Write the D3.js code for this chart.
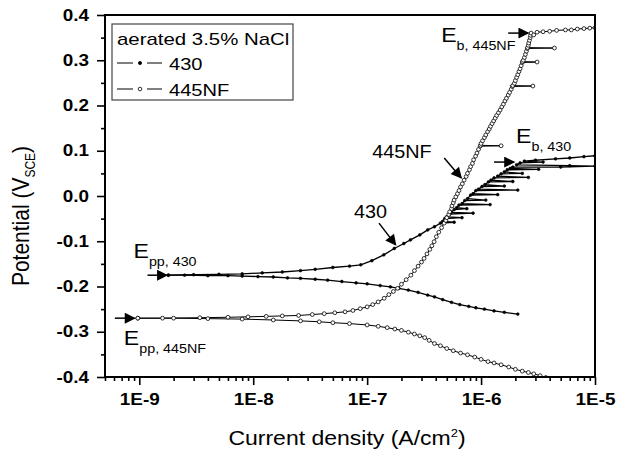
<!DOCTYPE html>
<html>
<head>
<meta charset="utf-8">
<script src="https://cdn.jsdelivr.net/npm/d3@7"></script>
<style>
  body { margin: 0; background: #fff; }
  text { font-family: "Liberation Sans", Arial, sans-serif; }
</style>
</head>
<body>
<svg id="chart" width="630" height="453"></svg>
<script>
// polarisation curves, [current density A/cm2, potential V(SCE)]
// each branch starts at the passivation potential and runs outward
var cathodic430 = [
  [1.8e-9,-0.175],[2.5e-9,-0.175],[4e-9,-0.176],[6e-9,-0.176],[8e-9,-0.177],[1.1e-8,-0.178],
  [1.5e-8,-0.179],[2e-8,-0.181],[2.6e-8,-0.182],[3.5e-8,-0.184],[4.5e-8,-0.186],[6e-8,-0.189],
  [8e-8,-0.192],[1e-7,-0.194],[1.3e-7,-0.198],[1.6e-7,-0.201],[1.9e-7,-0.204],[2.3e-7,-0.208],
  [2.8e-7,-0.213],[3.4e-7,-0.219],[3.9e-7,-0.223],[4.6e-7,-0.229],[5.5e-7,-0.235],[6.5e-7,-0.240],
  [7.8e-7,-0.244],[9e-7,-0.247],[1.07e-6,-0.250],[1.3e-6,-0.254],[1.6e-6,-0.257],[2.1e-6,-0.261]
];
var anodic430 = [
  [1.8e-9,-0.175],[3e-9,-0.174],[5e-9,-0.173],[8e-9,-0.172],[1.2e-8,-0.170],[1.8e-8,-0.168],
  [2.6e-8,-0.165],[3.5e-8,-0.162],[5e-8,-0.158],[7e-8,-0.155],[8.8e-8,-0.152],[1.1e-7,-0.143],
  [1.4e-7,-0.130],[1.73e-7,-0.116],[2.1e-7,-0.105],[2.4e-7,-0.097],[2.9e-7,-0.086],[3.4e-7,-0.075],
  [3.9e-7,-0.068],[4.4e-7,-0.060],[5.8e-7,-0.058],[4.6e-7,-0.056],[4.8e-7,-0.050],[6.8e-7,-0.048],
  [5e-7,-0.046],[5.3e-7,-0.040],[8.5e-7,-0.038],[5.5e-7,-0.036],[5.8e-7,-0.030],[7.5e-7,-0.028],
  [6.1e-7,-0.026],[6.4e-7,-0.020],[1.2e-6,-0.019],[6.8e-7,-0.017],[7.2e-7,-0.010],[1.1e-6,-0.009],
  [7.6e-7,-0.006],[8.1e-7,0.002],[1.4e-6,0.003],[8.5e-7,0.005],[9e-7,0.012],[2.1e-6,0.013],
  [9.5e-7,0.015],[1.02e-6,0.021],[1.6e-6,0.022],[1.08e-6,0.025],[1.16e-6,0.031],[1.9e-6,0.032],
  [1.22e-6,0.035],[1.3e-6,0.040],[2.6e-6,0.041],[1.4e-6,0.044],[1.5e-6,0.049],[2.3e-6,0.050],
  [1.6e-6,0.053],[1.7e-6,0.058],[3.2e-6,0.059],[1.8e-6,0.061],[1.9e-6,0.064],[5e-6,0.064],
  [1e-5,0.066],[6e-6,0.067],[2.05e-6,0.069],[2.2e-6,0.073],[3.5e-6,0.075],[2.4e-6,0.077],
  [3e-6,0.079],[4.5e-6,0.082],[6e-6,0.084],[8e-6,0.087],[1e-5,0.089]
];
var cathodic445 = [
  [9.7e-10,-0.270],[2e-9,-0.270],[4e-9,-0.271],[8e-9,-0.272],[1.5e-8,-0.274],[2.6e-8,-0.276],
  [3.8e-8,-0.278],[5e-8,-0.280],[7e-8,-0.282],[1e-7,-0.285],[1.25e-7,-0.288],[1.5e-7,-0.291],
  [1.75e-7,-0.294],[2e-7,-0.297],[2.3e-7,-0.301],[2.6e-7,-0.305],[2.9e-7,-0.309],[3.2e-7,-0.313],
  [3.5e-7,-0.319],[3.9e-7,-0.326],[4.4e-7,-0.331],[5e-7,-0.337],[5.7e-7,-0.342],[6.6e-7,-0.347],
  [7.6e-7,-0.351],[8.8e-7,-0.356],[1e-6,-0.361],[1.15e-6,-0.366],[1.3e-6,-0.369],[1.5e-6,-0.373],
  [1.75e-6,-0.378],[2e-6,-0.383],[2.3e-6,-0.387],[2.6e-6,-0.390],[2.9e-6,-0.393],[3.3e-6,-0.397],
  [3.7e-6,-0.401]
];
var anodic445 = [
  [9.7e-10,-0.270],[1.6e-9,-0.270],[3.4e-9,-0.269],[6e-9,-0.268],[9e-9,-0.267],[1.3e-8,-0.266],
  [1.8e-8,-0.265],[2.5e-8,-0.264],[3.3e-8,-0.262],[4.2e-8,-0.260],[5.2e-8,-0.258],[6.4e-8,-0.256],
  [7.5e-8,-0.253],[8.7e-8,-0.249],[1e-7,-0.245],[1.12e-7,-0.240],[1.25e-7,-0.234],[1.41e-7,-0.226],
  [1.55e-7,-0.218],[1.7e-7,-0.211],[1.85e-7,-0.204],[2e-7,-0.195],[2.2e-7,-0.185],[2.42e-7,-0.175],
  [2.6e-7,-0.165],[2.8e-7,-0.155],[3e-7,-0.146],[3.16e-7,-0.138],[3.35e-7,-0.128],[3.55e-7,-0.118],
  [3.7e-7,-0.110],[3.87e-7,-0.101],[4.05e-7,-0.090],[4.25e-7,-0.080],[4.5e-7,-0.070],[4.74e-7,-0.060],
  [4.9e-7,-0.054],[5e-7,-0.048],[5.2e-7,-0.041],[5.3e-7,-0.035],[5.5e-7,-0.028],[5.55e-7,-0.022],
  [5.7e-7,-0.015],[5.8e-7,-0.009],[6e-7,-0.002],[6.2e-7,0.005],[6.4e-7,0.012],[6.6e-7,0.020],
  [6.85e-7,0.027],[7.1e-7,0.035],[7.4e-7,0.043],[7.6e-7,0.050],[7.9e-7,0.058],[8.1e-7,0.065],
  [8.4e-7,0.072],[8.6e-7,0.080],[8.95e-7,0.088],[9.2e-7,0.095],[9.5e-7,0.103],[9.8e-7,0.110],
  [1.5e-6,0.111],[9.9e-7,0.112],[1e-6,0.116],[1.03e-6,0.122],[1.07e-6,0.129],[1.1e-6,0.135],
  [1.14e-6,0.142],[1.18e-6,0.148],[1.21e-6,0.154],[1.25e-6,0.160],[1.29e-6,0.166],[1.33e-6,0.172],
  [1.37e-6,0.178],[1.42e-6,0.184],[1.47e-6,0.190],[1.52e-6,0.197],[1.57e-6,0.203],[1.62e-6,0.210],
  [1.67e-6,0.216],[1.73e-6,0.223],[1.78e-6,0.229],[1.84e-6,0.236],[1.88e-6,0.242],[2.85e-6,0.243],
  [1.9e-6,0.244],[1.96e-6,0.249],[2e-6,0.255],[2.05e-6,0.262],[2.1e-6,0.268],[2.15e-6,0.275],
  [2.2e-6,0.281],[2.25e-6,0.288],[2.3e-6,0.295],[3.1e-6,0.296],[2.31e-6,0.297],[2.35e-6,0.300],
  [2.4e-6,0.306],[2.45e-6,0.313],[2.5e-6,0.320],[2.55e-6,0.326],[4.4e-6,0.327],[2.56e-6,0.328],
  [2.6e-6,0.333],[2.62e-6,0.338],[2.66e-6,0.344],[2.7e-6,0.350],[2.72e-6,0.355],[2.75e-6,0.360],
  [2.9e-6,0.356],[3.1e-6,0.362],[3.5e-6,0.363],[4e-6,0.364],[4.6e-6,0.366],[5.5e-6,0.367],
  [6.2e-6,0.367],[7e-6,0.369],[8e-6,0.370],[9e-6,0.371],[1e-5,0.372]
];

var xTickValues = [1e-9, 1e-8, 1e-7, 1e-6, 1e-5];
var xTickLabels = ["1E-9", "1E-8", "1E-7", "1E-6", "1E-5"];
var yTickValues = [-0.4, -0.3, -0.2, -0.1, 0, 0.1, 0.2, 0.3, 0.4];
var yTickLabels = ["-0.4", "-0.3", "-0.2", "-0.1", "0.0", "0.1", "0.2", "0.3", "0.4"];
var legendTitle = "aerated 3.5% NaCl";
var seriesNames = ["430", "445NF"];

// the source figure is a bit wider than tall in its lettering
var WIDEN = 1.18;

drawPolarisation();

function widen(sel, k) {
    sel.each(function(){
        var len = this.getComputedTextLength();
        d3.select(this).attr('textLength', len * k).attr('lengthAdjust', 'spacingAndGlyphs');
    });
}

function drawPolarisation() {
    var margin = {top: 15, right: 35, bottom: 76, left: 105};
    var width = 630 - margin.left - margin.right;
    var height = 453 - margin.top - margin.bottom;

    var svg = d3.select('#chart');
    var chart = svg.append('g')
        .attr('transform', 'translate(' + margin.left + ',' + margin.top + ')');

    var x = d3.scaleLog().domain([5e-10, 1e-5]).range([0, width]);
    var y = d3.scaleLinear().domain([-0.4, 0.4]).range([height, 0]);

    // minor ticks, log decades 2..9 and the half steps on potential
    var xMinor = [];
    for (var e = -10; e < -5; e++) {
        for (var m = 2; m <= 9; m++) {
            var v = m * Math.pow(10, e);
            if (v >= 5e-10 && v <= 1e-5) xMinor.push(v);
        }
    }
    var yMinor = yTickValues.slice(0, -1).map(function(d){ return d + 0.05 });

    chart.append('g')
        .attr('transform', 'translate(0,' + height + ')')
        .call(d3.axisBottom(x).tickValues(xMinor).tickSize(4).tickFormat(''));
    chart.append('g')
        .attr('class', 'x-axis')
        .attr('transform', 'translate(0,' + height + ')')
        .call(d3.axisBottom(x).tickValues(xTickValues).tickSize(8).tickPadding(9)
            .tickFormat(function(d, i){ return xTickLabels[i] }));
    chart.append('g')
        .call(d3.axisLeft(y).tickValues(yMinor).tickSize(4).tickFormat(''));
    chart.append('g')
        .attr('class', 'y-axis')
        .call(d3.axisLeft(y).tickValues(yTickValues).tickSize(8).tickPadding(8)
            .tickFormat(function(d, i){ return yTickLabels[i] }));

    chart.selectAll('.domain').remove();
    chart.selectAll('.tick line').attr('stroke', '#000').attr('stroke-width', 1.6);
    chart.selectAll('.tick text')
        .attr('fill', '#000')
        .style('font-size', '16px')
        .style('font-weight', 'bold')
        .style('font-family', '"Liberation Sans", Arial, sans-serif')
        .call(widen, WIDEN);

    // clip the curves to the frame
    chart.append('clipPath').attr('id', 'plot-clip')
      .append('rect').attr('width', width).attr('height', height);
    var plot = chart.append('g').attr('clip-path', 'url(#plot-clip)');

    var line = d3.line()
        .x(function(d){ return x(d[0]) })
        .y(function(d){ return y(d[1]) });

    var series = [
        {data: cathodic430, filled: true},
        {data: anodic430, filled: true},
        {data: cathodic445, filled: false},
        {data: anodic445, filled: false}
    ];
    series.forEach(function(s) {
        plot.append('path')
            .datum(s.data)
            .attr('fill', 'none')
            .attr('stroke', '#000')
            .attr('stroke-width', s.filled ? 1.3 : 1)
            .attr('d', line);
    });
    series.forEach(function(s) {
        plot.selectAll(null)
            .data(s.data)
          .enter().append('circle')
            .attr('cx', function(d){ return x(d[0]) })
            .attr('cy', function(d){ return y(d[1]) })
            .attr('r', s.filled ? 1.4 : 1.9)
            .attr('fill', s.filled ? '#000' : '#fff')
            .attr('stroke', '#000')
            .attr('stroke-width', s.filled ? 0.6 : 0.8);
    });

    // frame
    chart.append('rect')
        .attr('width', width).attr('height', height)
        .attr('fill', 'none').attr('stroke', '#000').attr('stroke-width', 2);

    // legend
    var legend = chart.append('g').attr('transform', 'translate(7,9)');
    legend.append('rect')
        .attr('width', 181).attr('height', 76)
        .attr('fill', '#fff').attr('stroke', '#444').attr('stroke-width', 1.2);
    legend.append('text')
        .attr('x', 5).attr('y', 21)
        .style('font-size', '17px')
        .text(legendTitle)
        .call(widen, 1.2);
    seriesNames.forEach(function(name, i) {
        var row = legend.append('g').attr('transform', 'translate(0,' + (39 + i * 26) + ')');
        row.append('line').attr('x1', 5).attr('x2', 50).attr('stroke', '#000').attr('stroke-width', 1);
        row.append('rect').attr('x', 21).attr('y', -2).attr('width', 14).attr('height', 4).attr('fill', '#fff');
        row.append('circle').attr('cx', 28).attr('r', i === 0 ? 1.6 : 1.8)
            .attr('fill', i === 0 ? '#000' : '#fff')
            .attr('stroke', '#000').attr('stroke-width', 0.8);
        row.append('text').attr('x', 57).attr('y', 7)
            .style('font-size', '17px')
            .text(name)
            .call(widen, WIDEN);
    });

    // arrow head
    svg.append('defs').append('marker')
        .attr('id', 'head')
        .attr('viewBox', '0 0 10 10')
        .attr('refX', 9).attr('refY', 5)
        .attr('markerWidth', 13).attr('markerHeight', 11)
        .attr('markerUnits', 'userSpaceOnUse')
        .attr('orient', 'auto')
      .append('path').attr('d', 'M0,0 L10,5 L0,10 z').attr('fill', '#000');

    // annotations: arrow from/to in data units, label offset in px from arrow tail
    var notes = [
        {from: [1.73e-6, 0.360], to: [2.6e-6, 0.360], main: 'E', sub: 'b, 445NF', dx: -67, dy: 9},
        {from: [1.3e-6, 0.075], to: [1.95e-6, 0.075], main: 'E', sub: 'b, 430', dx: 22, dy: -19},
        {from: [1.18e-9, -0.175], to: [1.75e-9, -0.175], main: 'E', sub: 'pp, 430', dx: -14, dy: -17},
        {from: [6.1e-10, -0.270], to: [9.1e-10, -0.270], main: 'E', sub: 'pp, 445NF', dx: 9, dy: 27},
        {from: [4.75e-7, 0.084], to: [6.7e-7, 0.040], main: '445NF', sub: '', dx: -72, dy: 0},
        {from: [1.27e-7, -0.060], to: [1.78e-7, -0.108], main: '430', sub: '', dx: -25, dy: -5}
    ];
    notes.forEach(function(n) {
        var x0 = x(n.from[0]), y0 = y(n.from[1]);
        chart.append('line')
            .attr('x1', x0).attr('y1', y0)
            .attr('x2', x(n.to[0])).attr('y2', y(n.to[1]))
            .attr('stroke', '#000').attr('stroke-width', 1.5)
            .attr('marker-end', 'url(#head)');
        var g = chart.append('g')
            .attr('transform', 'translate(' + (x0 + n.dx) + ',' + (y0 + n.dy) + ') scale(1.1,1)');
        var t = g.append('text')
            .style('font-size', n.sub ? '21px' : '18px')
            .text(n.main);
        if (n.sub) {
            t.append('tspan').attr('dy', 8).style('font-size', '13px').text(n.sub);
        }
    });

    // axis titles
    var xg = svg.append('g')
        .attr('transform', 'translate(' + (margin.left + width / 2 - 3) + ',445) scale(' + WIDEN + ',1)');
    var xt = xg.append('text')
        .attr('text-anchor', 'middle')
        .style('font-size', '19.5px')
        .text('Current density (A/cm');
    xt.append('tspan').attr('dy', -8).style('font-size', '11px').text('2');
    xt.append('tspan').attr('dy', 8).text(')');

    var yg = svg.append('g')
        .attr('transform', 'translate(29,216) scale(' + WIDEN + ',1) rotate(-90)');
    var yt = yg.append('text')
        .attr('text-anchor', 'middle')
        .style('font-size', '21px')
        .text('Potential (V');
    yt.append('tspan').attr('dy', 5).style('font-size', '12px').text('SCE');
    yt.append('tspan').attr('dy', -5).text(')');
}
</script>
</body>
</html>
